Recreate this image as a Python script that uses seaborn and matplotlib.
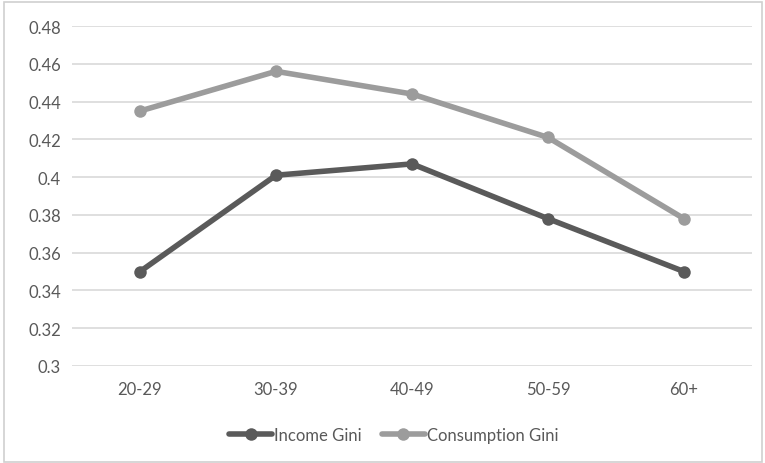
import matplotlib
matplotlib.use("Agg")
import matplotlib.pyplot as plt
import seaborn as sns
import pandas as pd

age_groups = ["20-29", "30-39", "40-49", "50-59", "60+"]
income_gini = [0.350, 0.401, 0.407, 0.378, 0.350]
consumption_gini = [0.435, 0.456, 0.444, 0.421, 0.378]

df = pd.DataFrame({
    "age": age_groups * 2,
    "gini": income_gini + consumption_gini,
    "series": ["Income Gini"] * 5 + ["Consumption Gini"] * 5,
})

sns.set_style("white")
plt.rcParams["font.family"] = ["Lato", "DejaVu Sans"]

fig = plt.figure(figsize=(7.65, 4.64), dpi=100)
ax = fig.add_axes([72 / 765, 1 - 367 / 464, 680 / 765, 340 / 464])

palette = {"Income Gini": "#5a5a5a", "Consumption Gini": "#9c9c9c"}
sns.lineplot(data=df, x="age", y="gini", hue="series", palette=palette,
             marker="o", markersize=9, markeredgewidth=0, linewidth=4,
             sort=False, ax=ax, zorder=3)

ax.set_xlim(-0.5, 4.5)
ax.set_ylim(0.3, 0.48)
ax.set_yticks([0.3, 0.32, 0.34, 0.36, 0.38, 0.4, 0.42, 0.44, 0.46, 0.48])
ax.set_yticklabels(["0.3", "0.32", "0.34", "0.36", "0.38", "0.4", "0.42",
                    "0.44", "0.46", "0.48"])
ax.yaxis.grid(True, color="#d9d9d9", linewidth=1.2)
ax.set_axisbelow(True)
for s in ax.spines.values():
    s.set_visible(False)
ax.tick_params(axis="both", length=0, labelsize=12, colors="#595959")
ax.tick_params(axis="x", pad=11)
ax.tick_params(axis="y", pad=8)
ax.set_xlabel("")
ax.set_ylabel("")

leg = ax.legend(loc="center", bbox_to_anchor=(0.473, (367 - 436) / 340),
                ncol=2, frameon=False, fontsize=12, handlelength=2.6,
                handletextpad=0.1, columnspacing=1.2)
for t in leg.get_texts():
    t.set_color("#595959")

fig.patches.append(plt.Rectangle((4 / 765, 0.002), 758 / 765, 0.992,
                                 transform=fig.transFigure, fill=False,
                                 edgecolor="#d0d0d0", linewidth=1.2))

fig.savefig("out.png", dpi=100)
